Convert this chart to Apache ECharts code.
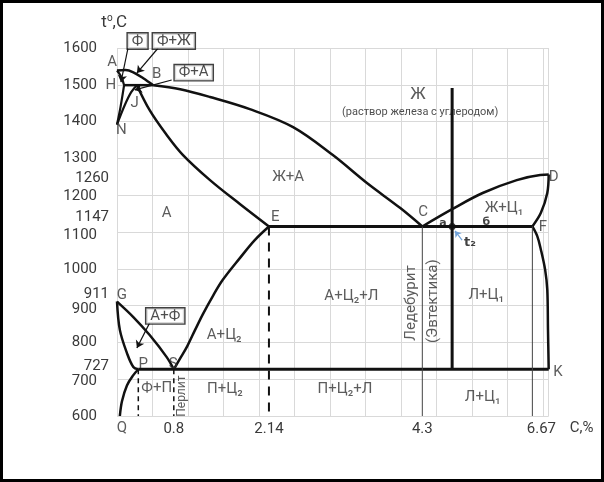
<!DOCTYPE html>
<html><head><meta charset="utf-8">
<script src="https://cdn.jsdelivr.net/npm/echarts@6/dist/echarts.min.js"></script>
<style>
html,body{margin:0;padding:0;background:#fff}
#c{width:604px;height:482px}
#frame{position:fixed;left:0;top:0;width:604px;height:482px;box-sizing:border-box;border:3px solid #000;pointer-events:none}
</style>
</head><body><div id="c"></div><div id="frame"></div>
<script>
// x: carbon content, % (on the diagram's drawn, schematic scale), y: temperature, °C
const curveAB  = [[0,1539],[0.12,1540],[0.23,1534],[0.37,1518],[0.51,1499]];
const curveAH  = [[0,1539],[0.06,1522],[0.1,1499]];
const lineHB   = [[0.1,1499],[0.51,1499]];
const curveNH  = [[0,1392],[0.05,1440],[0.1,1499]];
const curveNJ  = [[0,1392],[0.11,1445],[0.2,1480],[0.28,1499]];
const curveJE  = [[0.28,1499],[0.46,1431],[0.68,1369],[0.93,1309],[1.31,1241],[1.73,1176],[2.14,1115]];
const curveBC  = [[0.51,1499],[0.89,1488],[1.31,1467],[1.87,1434],[2.48,1385],[3.04,1309],[3.52,1233],[3.99,1165],[4.3,1115]];
const curveCD  = [[4.3,1115],[4.72,1162],[5.15,1206],[5.63,1241],[5.96,1255],[6.08,1256]];
const curveDF  = [[6.08,1256],[6.06,1206],[5.97,1152],[5.85,1115]];
const lineECF  = [[2.14,1115],[5.85,1115]];
const curveFK  = [[5.85,1115],[5.92,1088],[5.97,1052],[6.03,997],[6.06,943],[6.07,834],[6.08,727]];
const curveGS  = [[0,911],[0.23,869],[0.46,820],[0.7,760],[0.8,727]];
const curveGP  = [[0,911],[0.04,834],[0.14,771],[0.23,733],[0.3,727]];
const curvePQ  = [[0.3,727],[0.23,711],[0.14,683],[0.07,640],[0.04,600]];
const curveSE  = [[0.8,727],[0.9,760],[0.99,790],[1.1,834],[1.21,877],[1.35,926],[1.49,970],[1.73,1029],[1.94,1078],[2.14,1115]];
const linePSK  = [[0.3,727],[6.08,727]];
const alloyLine = [[4.72,1491],[4.72,727]];
const dashP    = [[0.3,727],[0.3,600]];
const dashS    = [[0.8,727],[0.8,600]];
const dashE    = [[2.14,1115],[2.14,600]];
const thinC    = [[4.3,1115],[4.3,600]];
const thinF    = [[5.85,1115],[5.85,600]];
const alloyPoint = [[4.72,1115]];

// axis ticks
const xTickPos  = [0.8, 2.14, 4.3, 5.85];
const xTickText = ['0.8', '2.14', '4.3', '6.67'];
const ySpecialTicks = [727, 911, 1147, 1260];

// annotations (text, x, y)
const pointLabels = [
  ['A',-0.07,1562],['B',0.56,1529],['H',-0.085,1499],['J',0.25,1450],['N',0.06,1377],
  ['E',2.23,1140],['C',4.31,1154],['D',6.15,1249],['F',6.0,1114],['K',6.21,720],
  ['G',0.07,929],['P',0.37,741],['S',0.79,741],['Q',0.07,567]
];
const regionLabels = [
  ['Ж+А',2.41,1249],['А',0.7,1152],['Ж+Ц₁',5.45,1165],['А+Ц₂+Л',3.3,926],
  ['Л+Ц₁',5.2,929],['Л+Ц₁',5.15,652],['А+Ц₂',1.51,820],['Ф+П',0.56,676],
  ['П+Ц₂',1.52,673],['П+Ц₂+Л',3.21,673]
];
const liquidLabel = [['Ж',4.24,1472]];
const liquidNote = [['(раствор железа с углеродом)',4.27,1426]];
const verticalLabels = [['Ледебурит',4.15,907],['(Эвтектика)',4.45,912]];
const pearliteLabel = [['Перлит',0.92,654]];
const boxLabels = [['Ф',0.29,1619],['Ф+Ж',0.8,1619],['Ф+А',1.08,1533],['А+Ф',0.68,872]];
const leaders = [
  [[0.155,1600],[0.056,1507]],
  [[0.58,1600],[0.28,1532]],
  [[0.77,1513],[0.25,1486]],
  [[0.46,853],[0.28,785]]
];
const noteArrow = [[[4.86,1078],[4.76,1103]]];
const handLabels = [['a',4.59,1124],['б',5.2,1127]];
const t2Label = [['t₂',4.97,1070]];

const FONT = 'Roboto';
const INK = '#111';
const TXT = '#333';
const AXT = '#3a3a3a';
// small vertical nudges (px) of crowded tick labels, as in the original drawing
const yNudge = { 900: 4, 911: -7, 727: -3, 700: 2, 1260: 5, 1147: 3, 1100: 3, 1200: 1 };

function nudged(v) {
  const d = yNudge[v] || 0;
  if (d > 0) return '{d' + d + '|' + v + '}';
  if (d < 0) return '{u' + (-d) + '|' + v + '}';
  return '{n|' + v + '}';
}
function richSet() {
  const r = { n: { fontFamily: FONT, fontSize: 15, color: AXT } };
  for (let i = 1; i <= 8; i++) {
    r['d' + i] = { fontFamily: FONT, fontSize: 15, color: AXT, padding: [2 * i, 0, 0, 0] };
    r['u' + i] = { fontFamily: FONT, fontSize: 15, color: AXT, padding: [0, 0, 2 * i, 0] };
  }
  return r;
}

function curve(data, width, smooth, extra) {
  return Object.assign({
    type: 'line', data: data, showSymbol: false, symbol: 'none', smooth: smooth ? 0.35 : false,
    lineStyle: { color: INK, width: width }, silent: true, clip: false, z: 3
  }, extra || {});
}
function textSeries(items, label, z) {
  return {
    type: 'scatter', symbolSize: 0, clip: false, silent: true, z: z || 5,
    data: items.map(d => ({ name: d[0], value: [d[1], d[2]] })),
    label: Object.assign({ show: true, position: 'inside', formatter: '{b}', fontFamily: FONT, color: TXT, fontSize: 14 }, label)
  };
}

const chart = echarts.init(document.getElementById('c'), null, { renderer: 'canvas' });
chart.setOption({
  animation: false,
  backgroundColor: '#fff',
  grid: { left: 117, top: 48, right: 55.3, bottom: 66, containLabel: false },
  xAxis: [
    { type: 'value', min: 0, max: 6.08, interval: 0.5,
      axisLine: { show: false }, axisTick: { show: false }, axisLabel: { show: false },
      splitLine: { show: true, lineStyle: { color: '#d9d9d9', width: 1 } } },
    { type: 'value', min: 0, max: 6.08, position: 'bottom',
      axisLine: { show: false }, axisTick: { show: false }, splitLine: { show: false },
      axisLabel: { show: true, customValues: xTickPos, margin: 6, fontFamily: FONT, fontSize: 15, color: AXT,
        formatter: function (v) {
          const i = xTickPos.findIndex(p => Math.abs(p - v) < 1e-6);
          if (i < 0) return '';
          return i === xTickPos.length - 1 ? '{r|' + xTickText[i] + '}' : xTickText[i];
        },
        rich: { r: { fontFamily: FONT, fontSize: 15, color: AXT, padding: [0, 0, 0, 18] } } },
      name: 'C,%', nameLocation: 'end', nameGap: 21,
      nameTextStyle: { fontFamily: FONT, fontSize: 15, color: AXT, verticalAlign: 'top', padding: [5, 0, 0, 0] } }
  ],
  yAxis: [
    { type: 'value', min: 600, max: 1600, interval: 100,
      axisLine: { show: false }, axisTick: { show: false },
      axisLabel: { margin: 20, formatter: nudged, rich: richSet() },
      splitLine: { show: true, lineStyle: { color: '#d9d9d9', width: 1 } },
      name: '{a|t}{b|o}{a|,C}', nameLocation: 'end', nameGap: 16,
      nameTextStyle: { align: 'right', padding: [0, -10, 0, 0],
        rich: { a: { fontFamily: FONT, fontSize: 17, color: AXT }, b: { fontFamily: FONT, fontSize: 10, color: AXT, padding: [0, 0, 9, 0] } } } },
    { type: 'value', min: 600, max: 1600, position: 'left',
      axisLine: { show: false }, axisTick: { show: false }, splitLine: { show: false },
      axisLabel: { customValues: ySpecialTicks, margin: 8, formatter: nudged, rich: richSet() } }
  ],
  series: [
    curve(curveAB, 2.5, true), curve(curveAH, 2.2, true), curve(lineHB, 2.5, false),
    curve(curveNH, 2.2, true), curve(curveNJ, 2.2, true), curve(curveJE, 2.5, true),
    curve(curveBC, 2.5, true), curve(curveCD, 2.5, true), curve(curveDF, 2.5, true),
    curve(lineECF, 3, false), curve(curveFK, 2.5, true), curve(curveGS, 2.5, true),
    curve(curveGP, 2.5, true), curve(curvePQ, 2.5, true), curve(curveSE, 2.5, true),
    curve(linePSK, 3, false), curve(alloyLine, 3, false),
    curve(dashP, 1.5, false, { lineStyle: { color: INK, width: 1.5, type: [5, 4] } }),
    curve(dashS, 1.5, false, { lineStyle: { color: INK, width: 1.5, type: [5, 4] } }),
    curve(dashE, 2, false, { lineStyle: { color: INK, width: 2, type: [9, 7] } }),
    curve(thinC, 1, false, { lineStyle: { color: '#444', width: 1 } }),
    curve(thinF, 1, false, { lineStyle: { color: '#444', width: 1 } }),
    { type: 'scatter', data: alloyPoint, symbolSize: 7, itemStyle: { color: INK }, silent: true, z: 4 },
    { type: 'lines', coordinateSystem: 'cartesian2d', clip: false, silent: true, z: 4,
      symbol: ['none', 'arrow'], symbolSize: 7,
      lineStyle: { color: INK, width: 1.2, opacity: 1 },
      data: leaders.map(c => ({ coords: c })) },
    { type: 'lines', coordinateSystem: 'cartesian2d', clip: false, silent: true, z: 4,
      symbol: ['none', 'arrow'], symbolSize: 6,
      lineStyle: { color: '#6fa1d8', width: 1.2, opacity: 1 },
      data: noteArrow.map(c => ({ coords: c })) },
    textSeries(pointLabels, { fontSize: 15 }),
    textSeries(regionLabels, { fontSize: 15 }),
    textSeries(liquidLabel, { fontSize: 17 }),
    textSeries(liquidNote, { fontSize: 11, color: '#222' }),
    textSeries(verticalLabels, { fontSize: 15, rotate: 90 }),
    textSeries(pearliteLabel, { fontSize: 12, rotate: 90 }),
    textSeries(boxLabels, { fontSize: 15, color: '#222', backgroundColor: '#fff', borderColor: '#111', borderWidth: 1.4, padding: [0, 4, 0, 4], lineHeight: 15 }, 6),
    textSeries(handLabels, { fontSize: 11, fontWeight: 'bold', fontFamily: 'DejaVu Sans', color: '#111' }),
    textSeries(t2Label, { fontSize: 13, fontWeight: 'bold', fontFamily: 'DejaVu Sans', color: '#111' })
  ]
});
</script>
</body></html>
